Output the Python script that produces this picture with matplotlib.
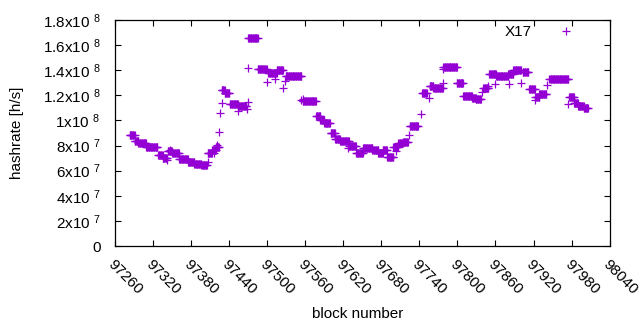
import numpy as np
import matplotlib
matplotlib.use("Agg")
import matplotlib.pyplot as plt

plt.rcParams['font.family'] = ['Liberation Sans', 'DejaVu Sans']
plt.rcParams['mathtext.fontset'] = 'custom'
plt.rcParams['mathtext.rm'] = 'Liberation Sans'
plt.rcParams['mathtext.it'] = 'Liberation Sans'

# runs of consecutive blocks sharing the same hashrate (start block, end block, value in 1e7 h/s)
run_start = [97283, 97291, 97297, 97309, 97328, 97335, 97343, 97350, 97361, 97375,
             97385, 97396, 97406, 97413, 97419, 97428, 97433, 97441, 97454, 97470,
             97485, 97502, 97515, 97529, 97556, 97577, 97584, 97590, 97600, 97607,
             97615, 97629, 97640, 97651, 97666, 97675, 97682, 97689, 97700, 97707,
             97714, 97725, 97744, 97756, 97762, 97778, 97799, 97809, 97823, 97829,
             97841, 97850, 97861, 97880, 97888, 97903, 97913, 97923, 97929, 97945,
             97976, 97984, 97990, 97999]
run_end = [97291, 97297, 97309, 97327, 97335, 97342, 97350, 97361, 97375, 97385,
           97396, 97405, 97413, 97419, 97424, 97433, 97440, 97454, 97467, 97485,
           97499, 97515, 97525, 97554, 97577, 97584, 97590, 97599, 97607, 97615,
           97629, 97640, 97651, 97666, 97675, 97682, 97689, 97699, 97707, 97714,
           97722, 97738, 97752, 97762, 97777, 97799, 97809, 97823, 97829, 97837,
           97849, 97861, 97880, 97888, 97900, 97912, 97922, 97929, 97940, 97975,
           97984, 97990, 97999, 98006]
run_value = [8.82, 8.40, 8.20, 7.91, 7.21, 7.01, 7.53, 7.38, 6.95, 6.73,
             6.50, 6.42, 7.38, 7.65, 7.91, 12.43, 12.19, 11.31, 11.15, 16.54,
             14.12, 13.76, 14.04, 13.52, 11.55, 10.35, 10.01, 9.77, 9.02, 8.50,
             8.39, 7.94, 7.41, 7.81, 7.62, 7.41, 7.67, 7.06, 7.91, 8.20,
             8.31, 9.53, 12.21, 12.72, 12.56, 14.28, 13.01, 11.91, 11.80, 11.67,
             12.58, 13.68, 13.50, 13.72, 14.04, 13.84, 12.50, 11.89, 12.12, 13.33,
             11.87, 11.39, 11.19, 10.97]

# isolated blocks
single_block = [97342, 97347, 97406, 97416, 97421, 97424, 97426, 97428, 97454, 97468,
                97469, 97469, 97500, 97512, 97525, 97528, 97554, 97557, 97628, 97698,
                97703, 97724, 97742, 97755, 97777, 97778, 97838, 97849, 97859, 97882,
                97901, 97922, 97942, 97975]
single_value = [6.85, 7.65, 6.71, 7.43, 8.04, 9.05, 10.57, 11.37, 10.73, 10.89,
                11.49, 14.15, 13.09, 13.28, 12.56, 13.17, 11.63, 11.71, 7.83, 7.91,
                7.59, 8.82, 10.49, 11.76, 13.01, 14.07, 12.29, 12.74, 12.88, 12.88,
                13.01, 11.63, 12.80, 11.31]

y_ticks = [0, 2e7, 4e7, 6e7, 8e7, 1e8, 1.2e8, 1.4e8, 1.6e8, 1.8e8]
y_ticklabels = ['0', '2x10 $^{7}$', '4x10 $^{7}$', '6x10 $^{7}$', '8x10 $^{7}$',
                '1x10 $^{8}$', '1.2x10 $^{8}$', '1.4x10 $^{8}$', '1.6x10 $^{8}$',
                '1.8x10 $^{8}$']
x_ticks = list(range(97260, 98041, 60))

blocks = []
values = []
for s, e, v in zip(run_start, run_end, run_value):
    b = np.arange(s, e + 1)
    blocks.append(b)
    values.append(np.full(len(b), v * 1e7))
blocks.append(np.array(single_block))
values.append(np.array(single_value) * 1e7)
blocks = np.concatenate(blocks)
values = np.concatenate(values)

color = '#9400D3'
fs = 11
fig = plt.figure(figsize=(6.4, 3.3), dpi=100)
ax = fig.add_axes([115 / 640, 1 - 246 / 330, (609.6 - 115) / 640, (246 - 20) / 330])
ax.plot(blocks, values, linestyle='none', marker='+', color=color,
        markersize=5.5, markeredgewidth=0.9, label='X17')

ax.set_xlim(97260, 98040)
ax.set_ylim(0, 1.8e8)
ax.set_yticks(y_ticks)
ax.set_yticklabels(y_ticklabels, fontsize=fs)
ax.set_xticks(x_ticks)
ax.set_xticklabels([str(t) for t in x_ticks], rotation=-45, ha='left', va='top',
                   rotation_mode='anchor', fontsize=fs)
ax.tick_params(direction='in', length=4, width=0.8, top=True, right=True)
ax.tick_params(axis='y', pad=10.5)
ax.tick_params(axis='x', pad=8)
for sp in ax.spines.values():
    sp.set_linewidth(0.9)

ax.set_xlabel('block number', fontsize=fs)
ax.set_ylabel('hashrate [h/s]', fontsize=fs)
ax.xaxis.set_label_coords(0.491, -0.272)
ax.yaxis.set_label_coords(-0.183, 0.5)

ax.legend(loc='center right', bbox_to_anchor=(0.953, 0.947), frameon=False,
          markerfirst=False, handletextpad=1.4, handlelength=1.8, fontsize=fs,
          borderpad=0.4, borderaxespad=0)

fig.savefig('out.png', dpi=100)
